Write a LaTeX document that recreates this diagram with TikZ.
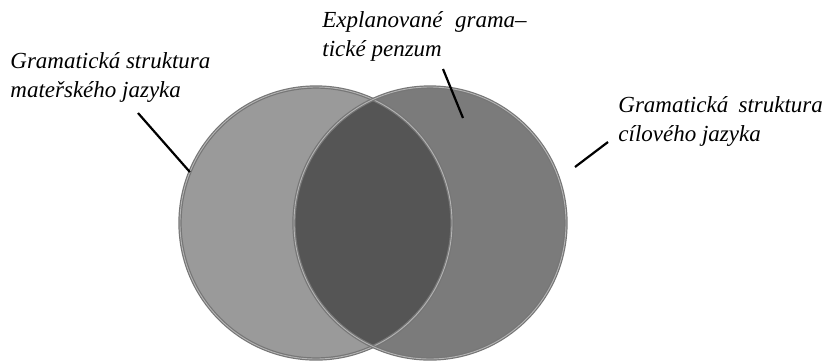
\documentclass[tikz,border=0pt]{standalone}
\usepackage{fontspec}
\setmainfont{Liberation Serif}
\usepackage{tikz}

\definecolor{leftgray}{HTML}{9A9A9A}
\definecolor{rightgray}{HTML}{7B7B7B}
\definecolor{bothgray}{HTML}{555555}
\definecolor{ringgray}{HTML}{767676}
\definecolor{ringlight}{HTML}{B4B4B4}

\begin{document}
\begin{tikzpicture}[
    x=0.5pt, y=-0.5pt,
    setdisc/.style={circle, inner sep=0pt, outer sep=0pt, minimum size=136pt},
    ring/.style={draw=ringgray, double=ringlight, double distance=0.45pt, line width=0.6pt},
    labeltext/.style={font=\fontsize{11.5}{14.5}\selectfont\itshape, align=left, inner sep=0pt, anchor=base west},
    leader/.style={line width=1.1pt}
]
\useasboundingbox (0,0) rectangle (826,361);

% the two sets
\node[setdisc, fill=leftgray] (lc) at (316,223) {};
\node[setdisc, fill=rightgray] (rc) at (430,223) {};

% common part
\begin{scope}
  \clip (lc.center) circle (68pt);
  \fill[bothgray] (rc.center) circle (68pt);
\end{scope}

\draw[ring] (lc.center) circle (68pt);
\draw[ring] (rc.center) circle (68pt);

% labels (base = baseline of the last line)
\node[labeltext] (lmat) at (10,97) {Gramatická struktura\\mateřského jazyka};
\node[labeltext] (lexp) at (322,56) {Explanované\hspace{0.3em} grama--\\tické penzum};
\node[labeltext] (lcil) at (618,141) {Gramatická\hspace{0.2em} struktura\\cílového jazyka};

% leader lines
\coordinate (lmatend) at (138,113);
\coordinate (lexpend) at (443,69);
\coordinate (lexptip) at (463,118);
\coordinate (lcilend) at (608,142);
\coordinate (lciltip) at (575,167);
\draw[leader] (lmatend) -- (lc.158);
\draw[leader] (lexpend) -- (lexptip);
\draw[leader] (lcilend) -- (lciltip);

\end{tikzpicture}
\end{document}
